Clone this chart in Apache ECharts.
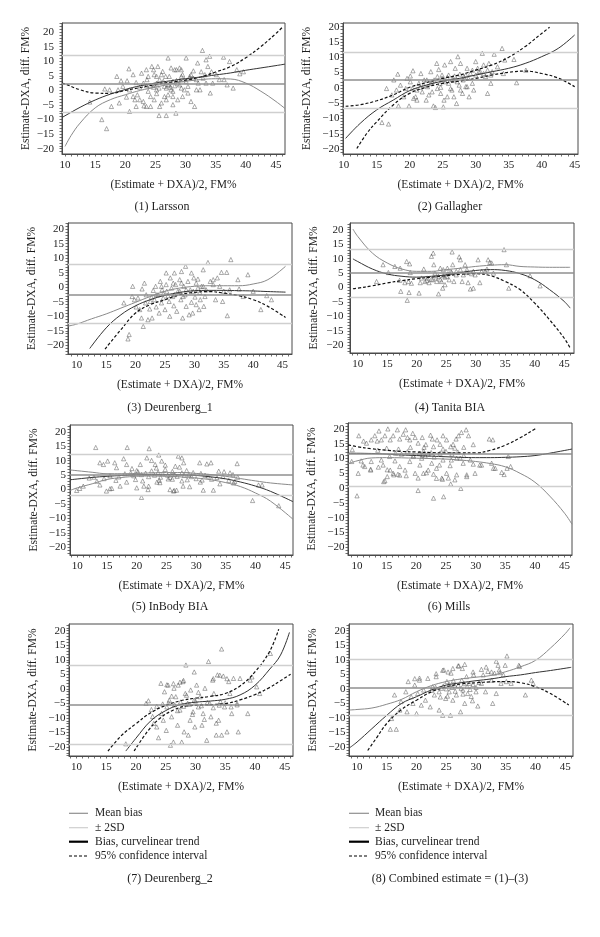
<!DOCTYPE html>
<html>
<head>
<meta charset="utf-8">
<script src="https://cdn.jsdelivr.net/npm/echarts@6.0.0/dist/echarts.min.js"></script>
<style>
html,body{margin:0;padding:0;background:#fff;}
#c{width:600px;height:937px;}
</style>
</head>
<body>
<div id="c"></div>
<script>
// ---------------- DATA ----------------
const xTickLabels = [10, 15, 20, 25, 30, 35, 40, 45];
const yTickLabels = [-20, -15, -10, -5, 0, 5, 10, 15, 20];
const xAxisTitle = '(Estimate + DXA)/2, FM%';
const yAxisTitle = 'Estimate-DXA, diff. FM%';
const panelTitles = ['(1) Larsson', '(2) Gallagher', '(3) Deurenberg_1', '(4) Tanita BIA',
  '(5) InBody BIA', '(6) Mills', '(7) Deurenberg_2', '(8) Combined estimate = (1)\u2013(3)'];
const legendLabels = ['Mean bias', '\u00b1 2SD', 'Bias, curvelinear trend', '95% confidence interval'];

const meanBias = [2.3, 2.5, -2.5, 5.0, 5.1, 11.5, -5.4, 0.5];
const sdUpper  = [11.9, 11.6, 8.0, 13.1, 12.3, null, 8.1, 10.1];
const sdLower  = [-7.4, -6.7, -12.3, -3.3, -2.0, 0.5, -18.9, -9.1];

const p1Points = [[14.1,-4.0],[16.1,-10.0],[16.9,-13.1],[16.6,0.5],[17.4,0.2],[17.7,-5.5],[18.6,4.8],[18.8,0.2],[19.3,3.3],[19.0,-4.3],[20.3,3.3],[20.6,7.4],[20.7,0.2],[20.7,-7.2],[21.3,5.4],[21.6,-3.2],[21.8,2.7],[22.0,-1.5],[22.4,1.1],[22.7,5.9],[23.0,-3.8],[23.1,-5.3],[23.5,7.1],[23.6,3.7],[23.8,-0.3],[24.2,-2.1],[24.2,-5.5],[24.7,7.1],[24.8,1.9],[25.2,4.8],[25.2,-1.1],[25.4,8.2],[25.6,0.8],[25.6,-8.6],[26.0,5.4],[26.0,-4.3],[26.3,3.1],[26.5,-2.1],[26.8,-8.6],[27.1,11.1],[27.1,1.9],[27.3,4.8],[27.6,0.2],[27.9,-2.1],[28.2,7.1],[28.4,-7.8],[28.7,2.5],[29.0,7.7],[29.3,0.8],[29.5,5.4],[30.1,11.1],[30.1,3.1],[30.4,-0.9],[30.7,4.2],[30.9,-3.8],[31.3,6.7],[31.5,-5.5],[31.8,3.7],[32.0,9.4],[32.4,0.2],[32.6,6.4],[32.8,13.7],[33.2,5.4],[33.4,10.5],[33.7,8.2],[34.0,11.7],[34.1,-0.9],[34.3,6.4],[34.5,2.5],[35.1,5.4],[35.6,3.7],[36.3,11.4],[36.4,3.7],[37.3,9.9],[36.9,1.9],[37.9,0.8],[38.5,7.1],[39.0,5.7],[39.6,6.4],
 [25.2,2.5],[25.7,3.7],[26.5,1.4],[26.8,0.8],[27.3,1.9],[27.5,1.1],[27.9,3.1],[28.2,1.6],[28.5,3.4],[29.0,1.9],[29.3,4.8],[29.8,3.7],[30.7,4.8],[30.9,5.4],[31.3,4.2],[25.2,0.2],[24.7,1.1],[24.1,1.6],[23.5,1.6],[23.0,2.5],[23.8,4.8],[24.4,8.2],[24.8,5.4],[26.2,6.5],[26.7,4.8],[27.6,7.7],[28.5,7.1],[29.3,7.1],[29.5,-2.1],[28.7,-3.2],[27.9,-4.9],[26.8,-3.2],[25.7,-5.5],[24.8,-3.2],[22.4,-3.2],[21.3,-2.1],[20.2,-2.3],[19.6,1.4],[21.8,-5.5],[23.5,-5.5],[31.8,0.2],[32.9,4.2],[33.4,2.5],[32.1,2.5],[30.4,1.4],[29.8,0.2],[27.9,-0.3],[27.1,-1.5]];
const p1Trend = [[9.5,-9.3],[10,-8.7],[12.5,-5.8],[15,-3.3],[17.5,-1.3],[20,0.3],[22.5,1.6],[25,2.5],[27.5,3.3],[30,4.0],[32.5,4.6],[35,5.3],[37.5,6.0],[40,6.9],[42.5,7.7],[45,8.5],[46.5,9.0]];
const p1CiUpper = [[9.5,2.5],[10,2.2],[12.5,0.2],[15,-0.9],[17.5,-1.0],[20,0.0],[22.5,1.0],[25,2.0],[27.5,2.8],[30,3.5],[32.5,4.6],[35,6.3],[37.5,8.2],[40,11.2],[42.5,15.0],[45,19.5],[46,21.5]];
const p1CiLower = [[10,-19.2],[11,-15.5],[12.5,-11.2],[15,-6.0],[17.5,-3.2],[20,-1.5],[22.5,0.0],[25,1.1],[27.5,2.2],[30,3.1],[32.5,3.7],[35,4.0],[37.5,3.9],[40,2.5],[42.5,-0.3],[45,-3.8],[46.5,-6.2]];

const p2Points = [[15.8,-11.3],[16.8,-11.8],[16.5,-0.2],[17.6,2.6],[18.0,-0.7],[18.2,4.5],[18.3,-5.9],[19.1,-2.9],[19.6,3.1],[19.9,-5.9],[20.1,3.9],[20.4,-0.2],[20.5,5.6],[20.9,-2.9],[21.1,-4.0],[21.4,1.5],[21.7,4.7],[21.9,-1.3],[22.2,2.6],[22.5,-4.0],[22.7,0.4],[23.2,5.3],[23.4,2.0],[23.6,-5.9],[23.9,-6.4],[24.1,8.0],[24.2,-0.2],[24.4,6.0],[24.7,-1.8],[24.9,3.1],[25.1,-6.2],[25.3,7.5],[25.4,2.0],[25.7,-2.9],[25.9,4.2],[26.2,8.6],[26.4,-0.7],[26.7,2.6],[26.9,6.4],[27.1,-5.1],[27.3,10.2],[27.5,0.9],[27.7,8.0],[28.0,-1.8],[28.2,3.7],[28.5,0.4],[28.7,6.4],[29.0,-2.9],[29.2,4.7],[29.5,1.5],[29.7,-0.7],[30.0,8.6],[30.3,6.4],[30.7,5.3],[31.0,11.3],[31.2,7.5],[31.5,3.7],[31.8,-1.8],[32.0,8.0],[32.3,1.5],[32.5,5.3],[32.8,11.0],[33.3,6.9],[34.0,12.9],[34.2,4.7],[34.4,9.1],[35.8,9.3],[36.2,1.7],[37.6,5.8],
 [22.6,2.6],[23.2,1.5],[23.7,2.6],[24.2,3.7],[24.6,1.5],[24.9,4.2],[25.2,2.6],[25.7,3.4],[25.9,1.5],[26.4,2.8],[26.8,3.9],[27.2,2.0],[27.6,4.5],[28.1,2.6],[28.5,4.2],[28.9,3.1],[29.5,5.8],[30.0,4.2],[30.5,5.3],[31.2,4.7],[31.8,5.8],[32.3,4.2],[21.1,-0.7],[21.6,0.2],[22.1,0.9],[23.4,-1.3],[24.7,0.2],[26.2,-0.2],[26.7,-2.9],[27.7,-0.7],[28.7,0.4],[25.2,-4.0],[22.9,-2.3],[20.1,2.0],[18.6,0.9],[17.3,-2.3],[19.4,-0.2],[20.6,-3.4]];
const p2Trend = [[10.3,-16.5],[12.5,-11.6],[15,-7.2],[17.5,-4.0],[20,-0.9],[22.5,0.9],[25,2.2],[27.5,3.1],[30,4.2],[32.5,5.3],[35,6.4],[37.5,8.0],[40,10.2],[42.5,12.9],[45,17.3]];
const p2CiUpper = [[10.3,-6.0],[12.5,-5.5],[15,-4.2],[17.5,-2.3],[20,0.2],[22.5,1.7],[25,3.1],[27.5,4.2],[30,5.8],[32.5,7.5],[35,10.0],[37.5,13.5],[40,17.8],[41.2,19.8]];
const p2CiLower = [[12,-19.8],[13.5,-14.9],[15,-11.1],[17.5,-5.6],[20,-1.8],[22.5,0.2],[25,1.5],[27.5,2.2],[30,3.1],[32.5,4.2],[35,5.1],[37.5,5.5],[40,4.7],[42.5,3.2],[45,0.4]];

const p3Points = [[18.0,-5.4],[18.7,-17.8],[18.9,-16.3],[19.5,0.3],[19.4,-3.2],[19.8,-4.3],[20.1,-6.8],[20.4,-3.7],[20.7,-7.7],[21.0,-10.6],[21.1,-0.6],[21.3,-13.5],[21.5,1.4],[21.7,-5.4],[21.8,-2.6],[22.1,-11.2],[22.4,-7.5],[22.5,-4.9],[22.8,-10.6],[23.0,-1.1],[23.2,-4.3],[23.4,0.3],[23.5,-6.8],[23.8,-2.6],[24.0,-8.9],[24.2,2.0],[24.4,-5.4],[24.5,-0.9],[24.7,-3.7],[25.0,-7.7],[25.2,4.9],[25.2,0.9],[25.3,-1.4],[25.7,-4.9],[25.8,-10.0],[25.9,3.2],[26.1,-0.3],[26.3,-3.2],[26.5,-6.4],[26.6,4.9],[26.8,0.9],[27.0,-8.3],[27.2,-1.4],[27.5,2.6],[27.7,-4.3],[27.8,5.4],[28.0,-10.6],[28.2,0.3],[28.4,-2.6],[28.5,7.2],[28.6,-6.6],[28.9,2.0],[29.1,-9.5],[29.3,-0.9],[29.5,-5.2],[29.7,-8.9],[29.9,3.2],[30.1,-3.4],[30.3,-6.0],[30.6,2.8],[30.8,-7.7],[31.0,-4.3],[31.2,0.3],[31.5,6.0],[31.6,-6.6],[31.8,-3.2],[32.0,-0.9],[32.3,8.5],[32.7,2.0],[33.2,2.6],[33.6,-4.3],[33.9,3.2],[34.3,0.3],[34.6,5.1],[34.8,-4.9],[35.0,-1.4],[35.5,5.1],[35.6,-9.8],[36.2,9.5],[36.0,-0.9],[37.4,2.6],[37.6,-0.6],[38.3,-3.2],[39.1,4.3],[40.0,-1.4],[41.3,-7.7],[42.3,-2.9],[43.1,-4.3],
 [27.5,-1.4],[28.6,-0.9],[29.8,-1.4],[30.9,-1.8],[28.1,-3.2],[26.6,-2.6],[25.5,-2.9],[24.7,-2.2],[23.5,-2.6],[22.7,-3.4],[30.3,1.4],[30.6,-0.3],[31.5,0.3],[33.2,0.9],[26.4,1.4],[27.8,1.4],[24.4,0.3],[29.5,4.9]];
const p3CiUpper = [[8.5,-13.4],[10,-12.7],[12.5,-10.9],[15,-9.2],[17.5,-7.2],[20,-5.2],[22.5,-3.2],[25,-1.4],[27.5,-0.3],[30,0.3],[32.5,0.5],[35,0.5],[37.5,0.5],[40,1.1],[42.5,2.6],[45.5,7.2]];
const p3Trend = [[12.2,-21.1],[15,-14.0],[17.5,-9.5],[20,-6.4],[22.5,-4.3],[25,-2.8],[27.5,-1.8],[30,-1.2],[32.5,-1.1],[35,-1.1],[37.5,-1.2],[40,-1.3],[42.5,-1.5],[45.5,-1.7]];
const p3CiLower = [[14.8,-21.3],[17.5,-14.6],[20,-8.9],[22.5,-6.0],[25,-4.3],[27.5,-2.6],[30,-1.8],[32.5,-1.5],[35,-2.0],[37.5,-2.9],[40,-4.3],[42.5,-6.6],[45.5,-10.4]];

const p4Points = [[13.2,2.1],[14.3,7.9],[15.2,5.2],[16.3,7.3],[17.1,2.5],[17.3,-1.3],[17.2,6.7],[18.0,1.7],[18.3,9.0],[18.4,-4.4],[18.6,2.1],[18.7,-1.7],[18.8,8.2],[18.9,5.2],[19.1,1.5],[20.6,1.7],[20.4,-1.9],[20.8,3.3],[21.2,6.4],[21.4,2.1],[21.8,3.3],[22.1,1.7],[22.5,10.8],[22.7,2.7],[22.8,11.9],[22.9,7.9],[23.1,5.0],[23.4,2.1],[23.7,-2.2],[24.0,6.7],[24.2,2.1],[24.4,-0.2],[24.5,6.2],[24.8,1.0],[25.1,3.9],[25.2,6.7],[25.5,2.7],[25.8,5.6],[26.0,12.3],[26.1,7.9],[26.3,2.1],[26.7,4.4],[27.2,10.6],[27.4,9.6],[27.7,2.1],[27.9,4.4],[28.2,7.9],[28.5,6.2],[28.7,1.7],[29.1,-0.5],[29.3,4.8],[29.6,-0.2],[29.9,4.4],[30.4,9.6],[30.7,1.7],[31.6,5.6],[32.1,9.6],[32.4,8.7],[32.7,8.5],[33.0,5.0],[34.8,13.1],[35.2,7.9],[35.6,-0.2],[39.2,4.1],[40.9,0.6],
 [21.7,2.5],[22.5,2.9],[23.3,3.3],[23.7,3.9],[24.5,4.1],[25.3,4.8],[25.9,5.2],[26.7,5.6],[27.4,6.2],[28.5,5.2],[29.6,5.6],[31.0,5.6],[31.9,6.4],[24.0,2.7],[24.8,3.6]];
const p4CiUpper = [[9.2,20.2],[10,17.7],[12.5,11.9],[15,8.5],[17.5,6.4],[20,5.6],[22.5,5.6],[25,6.2],[27.5,6.7],[30,7.3],[32.5,7.7],[35,7.9],[37.5,7.3],[40,7.1],[42.5,7.0],[46,7.0]];
const p4Trend = [[9.2,9.9],[10,9.0],[12.5,6.4],[15,4.7],[17.5,3.9],[20,3.6],[22.5,3.9],[25,4.4],[27.5,5.2],[30,5.9],[32.5,6.2],[35,5.9],[37.5,4.8],[40,2.7],[42.5,-0.7],[45,-4.8],[46,-7.1]];
const p4CiLower = [[9.2,-0.4],[10,-0.2],[12.5,0.6],[15,1.6],[17.5,2.4],[20,3.1],[22.5,3.6],[25,4.1],[27.5,4.6],[30,4.8],[32.5,4.1],[35,2.1],[37.5,-0.7],[40,-5.4],[42.5,-11.1],[45,-17.5],[46,-20.9]];

const p5Points = [[13.1,14.6],[18.4,14.6],[22.1,14.2],[23.7,12.0],[13.8,9.3],[14.4,8.7],[15.1,9.9],[16.3,9.3],[17.8,10.7],[18.3,8.7],[20.6,8.7],[21.7,11.0],[22.5,10.1],[23.1,8.7],[24.2,9.9],[24.8,8.5],[26.5,8.1],[27.0,11.6],[27.6,11.0],[27.9,9.3],[30.6,9.3],[31.8,8.9],[32.5,9.3],[33.8,6.4],[34.7,6.2],[35.7,5.8],[36.9,9.0],[36.2,5.2],[37.0,4.3],[16.6,7.6],[19.2,7.3],[20.0,6.6],[12.8,4.3],[13.3,2.9],[13.8,1.6],[14.9,-0.5],[15.8,0.4],[10.4,0.4],[9.9,-0.3],[40.5,1.6],[41.1,1.6],[20.0,0.6],[21.2,1.2],[21.9,0.0],[23.9,2.4],[25.6,0.0],[26.2,-0.5],[26.7,-0.2],[27.8,1.2],[20.8,-2.7],[39.5,-3.8],[43.9,-5.6],[31.2,-0.2],[32.9,-0.2],[28.9,1.0],[26.3,-0.3],[11.0,1.2],[15.5,0.3],[17.2,1.2],[18.3,2.6],[22.0,1.2],[23.4,2.6],[25.3,3.7],[27.6,3.0],[30.7,2.6],[34.0,2.0],[36.3,2.3],
 [18.0,5.5],[19.0,5.8],[19.5,4.8],[20.2,6.2],[20.8,5.2],[21.5,5.7],[22.0,4.5],[22.5,6.5],[23.0,5.0],[23.3,7.5],[23.6,6.0],[24.0,4.3],[24.4,5.5],[24.8,7.0],[25.2,5.0],[25.6,4.2],[26.0,6.3],[26.4,5.2],[26.8,4.6],[27.2,7.8],[27.6,5.8],[28.0,4.9],[28.4,6.6],[28.8,5.3],[29.2,4.5],[29.5,5.9],[30.0,3.8],[30.8,5.6],[31.5,5.0],[32.0,4.7],[32.6,3.6],[33.5,4.2],[17.0,4.4],[16.5,3.2],[15.5,4.8],[19.8,3.5],[21.0,3.0],[23.8,3.2],[26.0,3.6],[28.5,3.4],[31.0,3.3],[34.5,4.5],[35.5,3.2],[36.5,2.8],[14.5,3.8],[12.0,4.0]];
const p5CiUpper = [[8.8,6.8],[12.5,6.0],[15,5.5],[17.5,5.5],[20,5.6],[22.5,5.8],[25,5.9],[27.5,5.9],[30,5.6],[32.5,5.2],[35,4.6],[37.5,3.8],[40,3.0],[42.5,2.3],[46.3,1.6]];
const p5Trend = [[8.8,3.4],[12.5,4.2],[15,4.6],[17.5,4.9],[20,5.1],[22.5,5.2],[25,5.2],[27.5,5.1],[30,4.9],[32.5,4.4],[35,3.7],[37.5,2.6],[40,1.2],[42.5,-0.6],[46.3,-4.2]];
const p5CiLower = [[8.8,-0.3],[10,0.6],[12.5,2.0],[15,3.5],[17.5,4.2],[20,4.6],[22.5,4.7],[25,4.6],[27.5,4.4],[30,4.0],[32.5,3.4],[35,2.4],[37.5,1.0],[40,-1.2],[42.5,-4.0],[46.3,-10.3]];

const p6Points = [[10.3,17.7],[11.1,15.9],[11.6,15.2],[12.4,16.3],[13.0,17.7],[13.4,15.9],[13.7,19.3],[14.1,16.3],[14.7,17.7],[15.2,20.0],[15.6,16.3],[16.1,17.7],[16.8,19.7],[17.2,16.6],[17.8,18.2],[18.2,19.7],[18.5,17.1],[18.9,16.3],[19.4,18.5],[19.8,17.1],[20.3,15.2],[21.0,17.1],[21.3,13.8],[21.6,14.7],[22.4,17.9],[22.7,16.6],[22.9,14.0],[23.5,16.3],[24.0,14.8],[24.5,17.7],[25.1,16.3],[25.8,14.0],[26.2,14.8],[26.7,16.6],[27.1,17.7],[27.6,18.8],[28.0,13.8],[28.4,19.7],[28.8,17.7],[29.6,14.7],[32.3,16.6],[32.9,16.3],
 [26.8,10.1],[27.4,10.1],[25.9,9.5],[27.9,8.4],[29.1,9.5],[29.6,8.1],[30.7,7.8],[31.0,7.8],[32.7,8.4],[33.0,6.7],[34.4,5.3],[35.3,6.7],[34.8,4.6],[35.5,10.7],[10.7,9.2],[11.3,7.3],[12.4,9.0],[14.1,9.5],[14.4,7.8],[15.5,10.7],[16.4,9.2],[17.2,7.3],[18.1,6.1],[18.9,9.0],[19.5,10.7],[20.6,7.8],[20.9,10.1],[22.0,6.1],[22.6,8.4],[23.4,6.7],[23.9,7.8],[24.5,9.5],[25.1,5.0],[25.7,7.6],[16.2,4.5],[16.9,4.7],[15.1,3.9],[15.6,6.1],[14.7,2.5],[10.2,5.0],[12.3,6.1],[18.3,4.2],[20.3,3.4],[21.2,5.0],[22.9,4.7],[24.3,3.4],[25.4,3.4],[26.8,4.5],[28.5,4.5],[29.9,5.0],
 [10.0,-2.6],[14.5,2.2],[20.3,-0.8],[22.9,-3.4],[24.6,-2.9],[25.8,1.4],[27.5,-0.1],[26.5,2.8],[23.4,3.3],[24.4,3.0],[28.5,3.9],[33.3,6.7],[35.9,7.3],[15.1,6.2],[16.1,5.0],[17.2,4.4],[19.8,5.0],[21.7,5.2],[11.0,7.8],[12.3,6.4],[13.6,7.1],
 [16.5,11.8],[17.5,11.5],[18.5,12.3],[19.5,11.0],[20.5,11.8],[21.0,11.2],[21.2,12.5],[21.5,10.8],[22.0,11.5],[22.5,12.0],[23.0,10.5],[24.0,11.8],[25.0,12.4],[26.0,11.5],[27.0,12.2],[28.0,11.0],[9.2,13.0],[9.1,9.0],[13.5,12.8],[15.0,13.5],[17.0,13.2],[19.0,13.8],[24.5,13.2],[26.5,13.5]];
const p6CiUpper = [[8.5,14.6],[10,14.0],[12.5,13.3],[15,12.8],[17.5,12.4],[20,12.2],[22.5,12.0],[25,11.9],[27.5,11.9],[30,11.9],[32.5,12.8],[35,14.5],[37.5,17.0],[40,20.0],[40.3,20.5]];
const p6Trend = [[8.5,11.8],[12.5,11.7],[15,11.5],[17.5,11.2],[20,11.0],[22.5,10.8],[25,10.6],[27.5,10.4],[30,10.3],[32.5,10.3],[35,10.4],[37.5,10.6],[40,11.0],[42.5,11.8],[46.25,13.2]];
const p6CiLower = [[8.5,8.2],[10,9.2],[12.5,10.2],[15,10.3],[20,10.1],[25,9.8],[28.5,9.3],[30,9.0],[32.5,8.3],[35,7.2],[37.5,5.0],[40,2.0],[42.5,-2.7],[45,-8.5],[46.25,-12.2]];

const p7Points = [[18.3,-18.9],[21.7,-5.0],[22.1,-4.1],[22.6,-7.1],[23.0,-11.9],[23.5,-13.1],[23.8,-16.8],[24.2,1.9],[24.3,-8.5],[24.6,-10.8],[24.8,-1.0],[25.1,-14.3],[25.2,-6.2],[25.4,1.3],[25.6,-3.9],[25.8,-19.4],[26.0,-9.6],[26.3,-18.3],[26.4,0.2],[26.7,-2.7],[27.0,-12.5],[27.1,1.3],[27.4,-7.3],[27.7,-18.3],[27.9,2.5],[28.1,-14.8],[28.3,-1.6],[28.4,8.2],[28.7,-5.0],[28.8,-15.9],[29.1,-10.8],[29.2,-0.4],[29.6,-7.9],[29.8,-3.9],[29.9,-13.1],[30.2,1.3],[30.5,-6.2],[30.8,-2.7],[31.1,-12.5],[31.3,-8.5],[31.6,0.2],[31.9,-17.7],[32.2,9.4],[32.4,-5.0],[32.6,-9.6],[32.9,3.0],[33.1,-1.6],[33.5,-15.9],[33.7,4.8],[33.9,-10.8],[34.2,-4.4],[34.4,-15.9],[34.7,4.4],[34.9,-6.2],[35.3,-14.8],[35.6,2.5],[35.8,-1.6],[36.1,-8.5],[36.4,3.6],[37.0,-5.0],[37.2,-14.8],[37.5,3.6],[38.8,-8.5],[39.2,3.0],[40.3,0.7],[40.8,-1.6],
 [34.4,13.7],[29.8,5.8],[25.2,1.4],[26.3,1.8],[27.4,2.3],[28.0,2.9],[33.0,3.5],[34.1,4.7],[35.3,3.5],[39.5,4.1],[42.6,12.2],
 [24.5,-5.2],[25.5,-4.8],[26.5,-5.5],[27.5,-4.5],[28.0,-6.0],[29.0,-5.3],[30.0,-4.2],[31.0,-5.8],[32.0,-4.7],[33.0,-6.5],[34.0,-5.6],[35.0,-4.8],[36.0,-6.2],[37.0,-5.5],[27.0,-7.5],[29.5,-8.8],[31.5,-10.5],[33.5,-11.8],[26.0,-2.5],[28.5,-2.2],[30.5,-1.2],[23.5,-6.0],[22.8,-9.5]];
const p7CiUpper = [[15.3,-21.4],[17.5,-16.2],[20,-12.0],[22.5,-8.2],[25,-5.7],[27.5,-4.1],[30,-3.2],[32.5,-2.6],[35,-1.6],[37.5,1.0],[40,5.8],[42.5,13.0],[44,20.5]];
const p7Trend = [[18.3,-21.4],[20,-17.0],[22.5,-11.0],[25,-7.5],[27.5,-5.4],[30,-4.6],[32.5,-4.2],[35,-3.6],[37.5,-2.1],[40,1.2],[42.5,6.8],[44.3,11.6],[45.8,19.4]];
const p7CiLower = [[19.7,-21.4],[22,-14.5],[24,-10.2],[26.3,-7.3],[28.5,-5.9],[30.8,-5.6],[33,-5.4],[35.3,-5.0],[37.5,-3.8],[40,-2.0],[42.5,0.5],[44.3,2.8],[46,5.0]];

const p8Points = [[15.6,-13.9],[16.6,-13.9],[15.8,-10.2],[16.3,-2.1],[17.2,-7.3],[17.4,-4.4],[18.2,-1.0],[18.4,-7.9],[18.6,2.5],[19.1,-2.7],[19.4,-5.0],[19.7,1.3],[20.0,-8.5],[20.2,-1.6],[20.5,3.0],[20.8,-5.6],[21.2,-0.4],[21.5,-3.9],[21.9,3.6],[22.3,-6.2],[22.7,0.7],[23.0,-2.1],[23.3,4.2],[23.8,-7.3],[24.2,0.2],[24.4,-9.1],[24.6,6.5],[24.9,-3.3],[25.1,2.5],[25.5,-1.0],[25.7,-9.1],[25.8,5.4],[26.1,-3.9],[26.4,1.3],[26.7,-2.1],[27.1,7.9],[27.4,-7.9],[27.6,3.0],[27.8,-0.4],[28.1,-5.0],[28.4,4.2],[28.6,-1.6],[28.9,1.9],[29.4,-4.1],[29.6,4.8],[30.0,-1.0],[30.3,-5.9],[30.9,1.9],[31.2,4.8],[31.6,-1.0],[32.0,6.0],[32.6,3.0],[32.8,-5.0],[33.1,5.4],[33.4,-1.6],[33.9,6.5],[34.2,1.9],[34.6,4.8],[35.1,2.5],[35.9,1.9],[37.3,7.7],[38.3,-2.1],[39.3,3.0],[39.6,1.9],
 [19.7,3.5],[20.5,3.7],[23.3,5.2],[24.4,6.4],[25.3,5.8],[26.1,7.0],[27.0,7.9],[27.7,7.0],[28.1,8.4],[29.5,5.8],[30.9,6.7],[31.7,7.5],[32.6,5.8],[33.4,9.5],[33.7,8.1],[34.0,5.6],[35.2,11.3],[34.9,8.1],[37.2,8.1],
 [22.5,-0.5],[23.2,0.5],[23.8,-1.0],[24.5,1.0],[25.0,0.0],[25.5,1.5],[26.0,0.5],[26.5,-0.8],[27.0,1.2],[27.5,0.2],[28.0,1.8],[28.5,0.8],[29.0,-0.2],[29.5,1.5],[30.0,0.5],[30.5,2.2],[26.2,2.8],[27.8,-1.8],[25.2,-2.5],[24.0,-2.8],[29.2,-2.6]];
const p8CiUpper = [[8.65,-7.3],[10,-7.1],[12.5,-6.6],[15,-5.3],[17.5,-3.6],[20,-1.0],[22.5,1.1],[25,2.5],[27.5,3.4],[30,4.0],[32.5,4.6],[35,5.9],[37.5,7.6],[40,9.8],[42.5,14.0],[45,19.0],[45.8,21.0]];
const p8Trend = [[8.8,-20.2],[10,-18.3],[12.5,-13.7],[15,-9.1],[17.5,-5.0],[20,-2.7],[22.5,-0.4],[25,1.3],[27.5,2.1],[30,2.8],[32.5,3.4],[35,4.2],[37.5,4.8],[40,5.6],[42.5,6.3],[46,7.4]];
const p8CiLower = [[11.8,-21.2],[13.2,-17.1],[15,-11.9],[17.5,-7.1],[20,-3.9],[22.5,-1.0],[25,0.7],[27.5,1.7],[30,2.1],[32.5,2.4],[35,2.5],[37.5,2.1],[40,0.7],[42.5,-1.6],[45.6,-5.6]];

const allPoints  = [p1Points, p2Points, p3Points, p4Points, p5Points, p6Points, p7Points, p8Points];
const allTrend   = [p1Trend, p2Trend, p3Trend, p4Trend, p5Trend, p6Trend, p7Trend, p8Trend];
const allCiUpper = [p1CiUpper, p2CiUpper, p3CiUpper, p4CiUpper, p5CiUpper, p6CiUpper, p7CiUpper, p8CiUpper];
const allCiLower = [p1CiLower, p2CiLower, p3CiLower, p4CiLower, p5CiLower, p6CiLower, p7CiLower, p8CiLower];

// ---------------- LAYOUT & STYLE ----------------
const layout = [
  {left:62,  top:23,  width:223, height:131, xMin:9.5,  xMax:46.5,  yMin:-21.8, yMax:23.1, yLabM:8,   tx:162, ty:207},
  {left:343, top:23,  width:235, height:131, xMin:9.9,  xMax:45.5,  yMin:-21.6, yMax:21.2, yLabM:3.5, tx:450, ty:207},
  {left:68,  top:223, width:224, height:131, xMin:8.5,  xMax:46.6,  yMin:-23.0, yMax:22.1, yLabM:4,   tx:170, ty:408},
  {left:350, top:223, width:224, height:130, xMin:8.7,  xMax:46.65, yMin:-22.6, yMax:22.3, yLabM:6.5, tx:450, ty:407.5},
  {left:70,  top:425, width:223, height:130, xMin:8.77, xMax:46.3,  yMin:-22.7, yMax:22.4, yLabM:4,   tx:170, ty:607},
  {left:348, top:423, width:224, height:132, xMin:8.48, xMax:46.25, yMin:-22.6, yMax:22.0, yLabM:3.5, tx:449, ty:607},
  {left:69,  top:624, width:224, height:132, xMin:8.75, xMax:46.4,  yMin:-23.1, yMax:22.3, yLabM:3.6, tx:170, ty:879},
  {left:349, top:624, width:224, height:132, xMin:8.65, xMax:46.3,  yMin:-23.1, yMax:22.3, yLabM:3.6, tx:450, ty:879}
];
const ciUpperStyle = ['dash','dash','grey','grey','grey','dash','dash','grey'];
const ciLowerStyle = ['grey','dash','dash','dash','grey','grey','dash','dash'];

const FONT = '"Liberation Serif", "DejaVu Serif", serif';
const TXT = '#1e1e1e';
const AX = '#4a4a4a';
const MEAN_C = '#8f8f8f';
const SD_C = '#cfcfcf';
const GREY_C = '#8a8a8a';

function lineStyleFor(kind) {
  if (kind === 'dash') return {color:'#111', width:1.2, type:[3,2]};
  if (kind === 'grey') return {color:GREY_C, width:1};
  return {color:'#333', width:1};
}
function ints(a, b) { const r = []; for (let v = Math.ceil(a); v <= Math.floor(b); v++) r.push(v); return r; }
const fmt = v => (v < 0 ? '\u2212' + Math.abs(v) : String(v));

const grids = [], xAxes = [], yAxes = [], series = [], graphics = [];
layout.forEach((L, i) => {
  grids.push({left:L.left, top:L.top, width:L.width, height:L.height, show:true,
    borderColor:AX, borderWidth:1, backgroundColor:'transparent', containLabel:false});
  xAxes.push({gridIndex:i, type:'value', min:L.xMin, max:L.xMax,
    axisLine:{show:true, onZero:false, lineStyle:{color:AX, width:1}},
    axisTick:{show:true, customValues:ints(L.xMin, L.xMax), length:2.5, lineStyle:{color:AX, width:0.8}},
    axisLabel:{customValues:xTickLabels, margin:6, fontFamily:FONT, fontSize:11, color:TXT, formatter:fmt},
    splitLine:{show:false},
    name:xAxisTitle, nameLocation:'middle', nameGap:25,
    nameTextStyle:{fontFamily:FONT, fontSize:11.5, color:TXT}});
  yAxes.push({gridIndex:i, type:'value', min:L.yMin, max:L.yMax,
    axisLine:{show:true, onZero:false, lineStyle:{color:AX, width:1}},
    axisTick:{show:true, customValues:ints(L.yMin, L.yMax), length:2.5, lineStyle:{color:AX, width:0.8}},
    axisLabel:{customValues:yTickLabels, margin:L.yLabM, fontFamily:FONT, fontSize:11, color:TXT, formatter:fmt},
    splitLine:{show:false},
    name:yAxisTitle, nameLocation:'middle', nameGap:30, nameRotate:90,
    nameTextStyle:{fontFamily:FONT, fontSize:11.5, color:TXT}});

  const ml = [{yAxis:meanBias[i], lineStyle:{color:MEAN_C, width:1.6, type:'solid'}}];
  if (sdUpper[i] !== null) ml.push({yAxis:sdUpper[i], lineStyle:{color:SD_C, width:1.3, type:'solid'}});
  if (sdLower[i] !== null) ml.push({yAxis:sdLower[i], lineStyle:{color:SD_C, width:1.3, type:'solid'}});
  series.push({type:'line', xAxisIndex:i, yAxisIndex:i, data:[], z:1, silent:true,
    markLine:{silent:true, symbol:['none','none'], label:{show:false}, animation:false, data:ml}});

  series.push({type:'scatter', xAxisIndex:i, yAxisIndex:i, data:allPoints[i], z:2,
    symbol:'triangle', symbolSize:4.2, silent:true,
    itemStyle:{color:'rgba(255,255,255,0)', borderColor:'#4e4e4e', borderWidth:0.6}});

  const curves = [[allCiUpper[i], ciUpperStyle[i]], [allCiLower[i], ciLowerStyle[i]], [allTrend[i], 'trend']];
  curves.forEach(([d, kind]) => {
    series.push({type:'line', xAxisIndex:i, yAxisIndex:i, data:d, z:3, smooth:0.4,
      showSymbol:false, symbol:'none', silent:true, clip:true, lineStyle:lineStyleFor(kind)});
  });

  graphics.push({type:'text', x:L.tx, y:L.ty, silent:true,
    style:{text:panelTitles[i], x:0, y:0, textAlign:'center', textVerticalAlign:'middle',
      font:'12px ' + FONT, fill:TXT}});
});

// legends under panels 7 and 8
const legendSpots = [{x1:69, x2:88, tx:95}, {x1:349, x2:369, tx:375}];
const legendRowsY = [813.3, 827.7, 841.7, 856];
const legendLine = [
  {stroke:MEAN_C, lineWidth:1.2},
  {stroke:SD_C, lineWidth:1.2},
  {stroke:'#000', lineWidth:2.2},
  {stroke:'#000', lineWidth:1.2, lineDash:[3,2]}
];
legendSpots.forEach(s => {
  legendLabels.forEach((lab, k) => {
    graphics.push({type:'line', silent:true,
      shape:{x1:s.x1, y1:legendRowsY[k], x2:s.x2, y2:legendRowsY[k]},
      style:legendLine[k]});
    graphics.push({type:'text', silent:true, x:s.tx, y:legendRowsY[k],
      style:{text:lab, x:0, y:0, textAlign:'left', textVerticalAlign:'middle',
        font:'11.5px ' + FONT, fill:TXT}});
  });
});

const chart = echarts.init(document.getElementById('c'), null, {renderer:'canvas', width:600, height:937});
chart.setOption({
  backgroundColor:'#fff',
  animation:false,
  grid:grids, xAxis:xAxes, yAxis:yAxes, series:series,
  graphic:{elements:graphics}
});
</script>
</body>
</html>
